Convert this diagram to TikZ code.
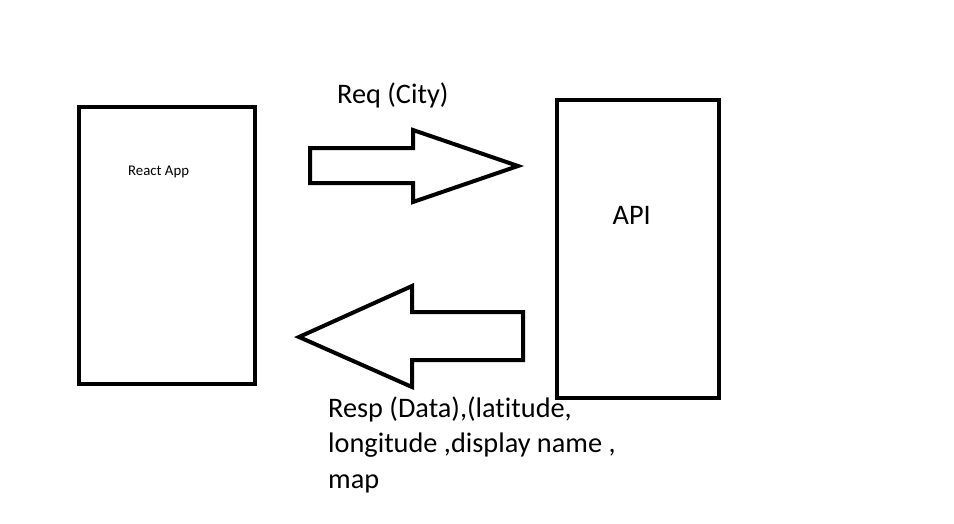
\documentclass[tikz,border=0pt]{standalone}
\usepackage{fontspec}
\setmainfont[Ligatures={NoCommon,NoRequired,NoContextual}]{Carlito}
\tikzset{
  box/.style={draw=black, line width=4pt},
  bigarrow/.style={draw=black, line width=4pt, line join=miter},
  bigtext/.style={anchor=base west, inner sep=0pt, font=\fontsize{28.3}{35.5}\selectfont, align=left},
  smalltext/.style={anchor=base west, inner sep=0pt, font=\fontsize{14.8}{18}\selectfont}
}
\begin{document}
\begin{tikzpicture}[x=1pt,y=-1pt]
\useasboundingbox (0,0) rectangle (954,523);
% boxes
\draw[box] (79,107) rectangle (255,384);
\draw[box] (556.5,99.5) rectangle (719,397.5);
% right arrow
\draw[bigarrow] (310,148) -- (413,148) -- (413,130) -- (518,166) -- (413,202) -- (413,183) -- (310,183) -- cycle;
% left arrow
\draw[bigarrow] (523,312) -- (412,312) -- (412,286) -- (299,337) -- (412,387) -- (412,360) -- (523,360) -- cycle;
% texts
\node[smalltext] (react) at (128,175) {React App};
\node[bigtext] (api) at (612.5,224.3) {API};
\node[bigtext] (req) at (337,103.3) {Req (City)};
\node[bigtext] (resp) at (328,488.3) {Resp (Data),(latitude,\\longitude ,display name ,\\map};
\end{tikzpicture}
\end{document}
